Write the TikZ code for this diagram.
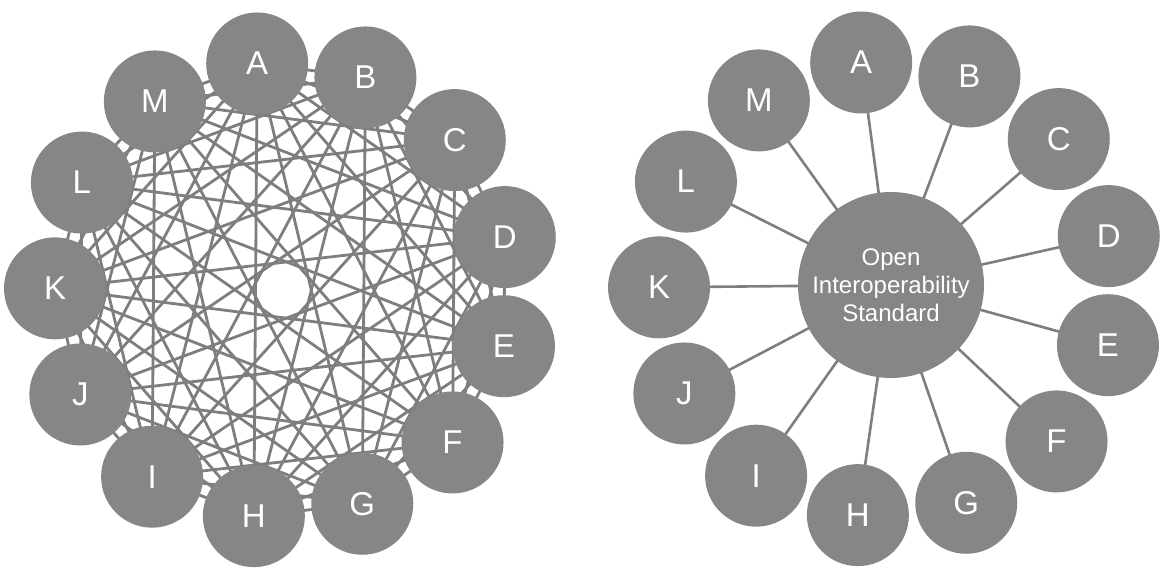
\documentclass[tikz,border=0pt]{standalone}
\usepackage{fontspec}
\setmainfont{Liberation Sans}
\usetikzlibrary{backgrounds}
\definecolor{disc}{HTML}{868686}
\definecolor{wire}{HTML}{7E7E7E}
\tikzset{
  member/.style={circle, fill=disc, draw=none, minimum size=102pt, inner sep=0pt,
    text=white, font=\fontsize{33}{38}\selectfont},
  hub/.style={circle, fill=disc, draw=none, minimum size=186pt, inner sep=0pt,
    text=white, align=center, font=\fontsize{24}{28}\selectfont},
  mesh/.style={draw=wire, line width=2.8pt},
  spoke/.style={draw=wire, line width=2.6pt}
}
\begin{document}
\begin{tikzpicture}[x=1pt,y=-1pt]
  \useasboundingbox (0,0) rectangle (1169,570);

  % point-to-point: every member linked to every other member
  \begin{scope}[shift={(283,290)}]
    \foreach \l [count=\i from 0] in {A,B,C,D,E,F,G,H,I,J,K,L,M}
      \node[member] (p\l) at ({-96.5+27.692*\i}:228) {\l};
  \end{scope}
  \begin{pgfonlayer}{background}
    \foreach \a/\rest in {A/{B,C,D,E,F,G,H,I,J,K,L,M},
                          B/{C,D,E,F,G,H,I,J,K,L,M},
                          C/{D,E,F,G,H,I,J,K,L,M},
                          D/{E,F,G,H,I,J,K,L,M},
                          E/{F,G,H,I,J,K,L,M},
                          F/{G,H,I,J,K,L,M},
                          G/{H,I,J,K,L,M},
                          H/{I,J,K,L,M},
                          I/{J,K,L,M},
                          J/{K,L,M},
                          K/{L,M},
                          L/{M}}
      \foreach \b in \rest
        \draw[mesh] (p\a.center) -- (p\b.center);
  \end{pgfonlayer}

  % hub and spoke: every member linked to the shared standard
  \node[hub] (std) at (891,285) {Open\\Interoperability\\Standard};
  \begin{scope}[shift={(887,289)}]
    \foreach \l [count=\i from 0] in {A,B,C,D,E,F,G,H,I,J,K,L,M}
      \node[member] (s\l) at ({-96.5+27.692*\i}:228) {\l};
  \end{scope}
  \begin{pgfonlayer}{background}
    \foreach \l in {A,B,C,D,E,F,G,H,I,J,K,L,M}
      \draw[spoke] (std.center) -- (s\l.center);
  \end{pgfonlayer}
\end{tikzpicture}
\end{document}
